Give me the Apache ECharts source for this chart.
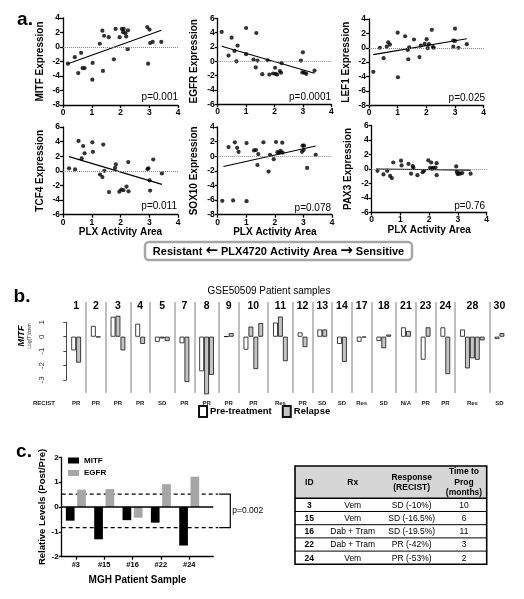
<!DOCTYPE html>
<html><head><meta charset="utf-8">
<script src="https://cdn.jsdelivr.net/npm/echarts@6/dist/echarts.min.js"></script>
<style>html,body{margin:0;padding:0;background:#fff}#c{width:524px;height:599px}</style>
</head><body><div id="c"></div>
<script>
const FONT = 'Liberation Sans, Arial, sans-serif';

// ---------- Panel a data ----------
const mitfPoints = [[0.17,-2.3],[0.41,-1.4],[0.53,-3.6],[0.63,-0.8],[0.68,-2.9],[0.75,-2.9],[1.02,-4.5],[1.03,-2.2],[1.28,0.45],[1.37,2.25],[1.39,-3.3],[1.43,1.55],[1.59,1.35],[1.77,-1.7],[1.83,2.5],[1.97,1.35],[2.05,2.5],[2.09,2.05],[2.11,2.5],[2.17,1.9],[2.2,1.45],[2.26,2.3],[2.25,-0.3],[2.93,2.75],[2.96,-2.3],[3.01,2.4],[3.03,0.55],[3.12,0.7],[3.42,0.7]];
const egfrPoints = [[0.14,4.1],[0.38,0.8],[0.49,3.3],[0.59,1.45],[0.66,0.0],[0.7,2.2],[1.0,4.65],[1.0,1.0],[1.26,0.25],[1.34,-0.85],[1.36,3.95],[1.4,0.1],[1.57,-1.8],[1.76,0.15],[1.82,-1.85],[1.95,-1.7],[2.02,-0.9],[2.04,-1.75],[2.09,-1.85],[2.19,-1.35],[2.23,-1.6],[2.25,-0.25],[2.93,0.1],[3.0,1.25],[2.98,-1.55],[3.05,-1.6],[3.12,-1.75],[3.41,-1.3]];
const lef1Points = [[0.15,-3.35],[0.38,0],[0.51,-1.45],[0.62,0.15],[0.67,0.75],[0.73,0.45],[1.0,2.1],[1.01,-4.1],[1.26,1.6],[1.35,-0.3],[1.37,-1.6],[1.4,0.05],[1.57,1.15],[1.76,-1.3],[1.81,0.3],[1.94,0.55],[2.01,1.2],[2.05,-0.05],[2.09,0.5],[2.19,2.5],[2.23,0.1],[2.26,0],[2.94,1.0],[2.94,0.15],[3.0,2.65],[3.0,0.95],[3.12,0],[3.41,0.5]];
const tcf4Points = [[0.21,0.35],[0.42,0.2],[0.54,4.1],[0.65,1.7],[0.7,3.4],[0.75,2.4],[1.02,3.9],[1.04,2.6],[1.29,-0.5],[1.37,-0.85],[1.4,3.6],[1.44,0],[1.6,-2.9],[1.81,0.4],[1.84,0.9],[1.96,-2.85],[2.03,-2.55],[2.1,-2.65],[2.21,-2.15],[2.27,1.2],[2.28,-2.8],[2.94,0.25],[2.97,0.35],[3.01,-1.3],[3.03,-2.7],[3.14,1.55],[3.44,-0.35]];
const sox10Points = [[0.16,-6.1],[0.38,1.25],[0.54,-6.05],[0.6,1.9],[0.68,1.15],[0.73,0.6],[1.01,1.8],[1.01,-6.15],[1.27,0.8],[1.34,0.85],[1.39,-1.2],[1.42,0.3],[1.6,1.9],[1.78,-2.1],[1.83,0.2],[1.96,-0.4],[2.04,1.95],[2.09,0.55],[2.16,0.5],[2.2,0.75],[2.26,1.85],[2.27,0.5],[2.95,0.6],[2.97,1.45],[3.01,0.85],[3.02,1.45],[3.13,-1.6],[3.43,0.2]];
const pax3Points = [[0.2,-0.25],[0.41,-0.75],[0.54,-0.25],[0.64,-0.95],[0.7,-1.25],[0.75,0.9],[1.02,1.15],[1.04,0.5],[1.28,0.7],[1.37,-0.65],[1.43,0.4],[1.45,0.2],[1.59,-0.85],[1.77,-0.45],[1.82,-0.25],[1.97,1.2],[2.03,0.15],[2.07,0.9],[2.1,0.05],[2.14,0.15],[2.22,0.2],[2.26,0.8],[2.26,-0.85],[2.94,0.35],[2.96,-0.4],[2.99,-0.7],[3.03,-0.6],[3.07,-0.65],[3.15,-0.55],[3.44,-0.65]];

const mitfFit = [[0.17,-2.3],[3.42,2.3]];
const egfrFit = [[0.14,2.1],[3.41,-1.67]];
const lef1Fit = [[0.15,-0.95],[3.41,1.25]];
const tcf4Fit = [[0.21,1.95],[3.44,-1.85]];
const sox10Fit = [[0.2,-1.4],[3.43,1.4]];
const pax3Fit = [[0.15,0.0],[3.44,-0.15]];

const aGenes = ['MITF','EGFR','LEF1','TCF4','SOX10','PAX3'];
const aPValues = ['p=0.001','p=0.0001','p=0.025','p=0.011','p=0.078','p=0.76'];
const aYMin = [-8,-6,-8,-6,-8,-6];
const aYMax = [4,6,4,6,4,6];
const aXTitle = 'PLX Activity Area';
const arrowText = 'Resistant {ar|\u2190} PLX4720 Activity Area {ar|\u2192} Sensitive';

// ---------- Panel b data ----------
const bTitle = 'GSE50509 Patient samples';
const bPatients = ['1','2','3','4','5','7','8','9','10','11','12','13','14','17','18','21','23','24','28','30'];
const bRecist = ['PR','PR','PR','PR','SD','PR','PR','PR','PR','Res','PR','SD','SD','Res','SD','N/A','PR','PR','Res','SD'];
const bPre = [-0.95,0.75,1.38,0.9,-0.35,-0.45,-2.4,0.02,-0.9,0.98,0.3,0.5,-0.5,-0.35,-0.3,0.65,-1.6,0.65,0.5,-0.15];
const bRelapse = [[-1.8],[-0.03],[1.45,-0.95],[-0.5],[-0.12,-0.3],[-3.15],[-4.0,-2.65],[0.25],[0.7,-2.25,0.95],[1.4,-1.7],[-0.72],[0.5],[-1.75],[-0.05],[-0.8,0.15],[0.4],[0.65],[-2.6],[-2.2,-1.5,-1.6,-0.25],[0.25]];

// ---------- Panel c data ----------
const cSamples = ['#3','#15','#16','#22','#24'];
const cMITF = [-0.55,-1.3,-0.53,-0.63,-1.55];
const cEGFR = [0.7,0.72,-0.43,0.92,1.22];
const cThresholds = [0.52,-0.83];
const cPValue = 'p=0.002';

// ---------- Table ----------
const tHeader = ['ID','Rx','Response\n(RECIST)','Time to\nProg\n(months)'];
const tIds = ['3','15','16','22','24'];
const tRx = ['Vem','Vem','Dab + Tram','Dab + Tram','Vem'];
const tResponse = ['SD (-10%)','SD (-16.5%)','SD (-19.5%)','PR (-42%)','PR (-53%)'];
const tTime = ['10','6','11','3','2'];

// ================= build =================
const chart = echarts.init(document.getElementById('c'), null, {renderer:'canvas'});
const aPoints = [mitfPoints, egfrPoints, lef1Points, tcf4Points, sox10Points, pax3Points];
const aFits = [mitfFit, egfrFit, lef1Fit, tcf4Fit, sox10Fit, pax3Fit];
const aGrids = [
  {left:63, top:18, width:115, height:87},
  {left:217.7, top:18.3, width:113.6, height:86},
  {left:369, top:19, width:114.7, height:86.3},
  {left:63, top:127, width:115, height:87.7},
  {left:217.7, top:127, width:114.3, height:87.7},
  {left:371.7, top:125.5, width:115, height:87}
];
const axisLineStyle = {color:'#000', width:1.3};
const tickFont = {color:'#000', fontWeight:'bold', fontSize:8.5, fontFamily:FONT};

const grid = [], xAxis = [], yAxis = [], series = [];
aGrids.forEach((g, i) => {
  grid.push(g);
  xAxis.push({gridIndex:i, type:'value', min:0, max:4, interval:1,
    axisLine:{onZero:false, lineStyle:axisLineStyle}, axisTick:{length:3, lineStyle:{width:1.3}},
    axisLabel:Object.assign({margin:3}, tickFont), splitLine:{show:false},
    name: i >= 3 ? aXTitle : '', nameLocation:'middle', nameGap:13,
    nameTextStyle:{color:'#000', fontWeight:'bold', fontSize:10, fontFamily:FONT}});
  yAxis.push({gridIndex:i, type:'value', min:aYMin[i], max:aYMax[i], interval:2,
    axisLine:{onZero:false, lineStyle:axisLineStyle}, axisTick:{length:3, lineStyle:{width:1.3}},
    axisLabel:Object.assign({margin:3}, tickFont), splitLine:{show:false},
    name: aGenes[i] + ' Expression', nameLocation:'middle', nameGap:18,
    nameTextStyle:{color:'#000', fontWeight:'bold', fontSize:10, fontFamily:FONT}});
  series.push({type:'scatter', name:'pts'+i, xAxisIndex:i, yAxisIndex:i, data:aPoints[i], symbolSize:4.2,
    itemStyle:{color:'#000'}, silent:true,
    markLine:{silent:true, symbol:'none', label:{show:false}, lineStyle:{type:'dotted', color:'#888', width:1}, data:[{yAxis:0}]}});
  series.push({type:'line', name:'fit'+i, xAxisIndex:i, yAxisIndex:i, data:aFits[i], symbol:'none',
    lineStyle:{color:'#000', width:1.1}, silent:true});
});

// ---- Panel b layout in slot units ----
const groupStart = [], groupCenter = [];
let s = 0;
const preData = [], relData = [];
bPatients.forEach((p, g) => {
  const n = 1 + bRelapse[g].length;
  groupStart.push(s);
  groupCenter.push(s + (n + 2) / 2);
  preData.push([s + 1.5, bPre[g]]);
  bRelapse[g].forEach((v, k) => relData.push([s + 2.5 + k, v]));
  s += n + 2;
});
const totalSlots = s;
const sepLines = groupStart.slice(1).map(v => ({xAxis: v}));
const centerKey = v => Number(v).toFixed(3);
const numMap = new Map(groupCenter.map((c, i) => [centerKey(c), bPatients[i]]));
const recMap = new Map(groupCenter.map((c, i) => [centerKey(c), bRecist[i]]));

// grid 6: bars (xAxis 6 bottom, xAxis 7 top, yAxis 6)
grid.push({left:66.3, top:302, width:443, height:91});
xAxis.push({gridIndex:6, type:'value', min:0, max:totalSlots, position:'bottom',
  axisLine:{show:false}, axisTick:{show:false}, splitLine:{show:false},
  axisLabel:{customValues:groupCenter, formatter:v => recMap.get(centerKey(v)) || '', margin:7,
    color:'#222', fontSize:6, fontWeight:'bold', fontFamily:FONT}});
xAxis.push({gridIndex:6, type:'value', min:0, max:totalSlots, position:'top',
  axisLine:{show:false}, axisTick:{show:false}, splitLine:{show:false},
  axisLabel:{customValues:groupCenter, formatter:v => numMap.get(centerKey(v)) || '', inside:true, margin:-1,
    color:'#000', fontSize:10.5, fontWeight:'bold', fontFamily:FONT}});
yAxis.push({gridIndex:6, type:'value', min:-3.91, max:2.41, show:false});
// grid 7: visible axis (xAxis 8, yAxis 7)
grid.push({left:66.3, top:322.3, width:443, height:57.6});
xAxis.push({gridIndex:7, type:'value', min:0, max:1, show:false});
yAxis.push({gridIndex:7, type:'value', min:-3, max:1, interval:1, offset:12,
  axisLine:{lineStyle:{color:'#444', width:1}}, axisTick:{length:3, lineStyle:{color:'#444'}},
  axisLabel:{rotate:90, margin:9, color:'#333', fontSize:8, fontFamily:FONT}, splitLine:{show:false}});

series.push({type:'bar', name:'Pre-treatment', xAxisIndex:6, yAxisIndex:6, data:preData, barWidth:4.8, barGap:'-100%',
  itemStyle:{color:'#fff', borderColor:'#111', borderWidth:0.8}, clip:false, silent:true});
series.push({type:'bar', name:'Relapse', xAxisIndex:6, yAxisIndex:6, data:relData, barWidth:4.8, barGap:'-100%',
  itemStyle:{color:'#c4c4c4', borderColor:'#111', borderWidth:0.8}, clip:false, silent:true,
  markLine:{silent:true, symbol:'none', label:{show:false}, lineStyle:{type:'solid', color:'#a8a8a8', width:1.5}, data:sepLines}});

// ---- Panel c (grid 8, xAxis 9, yAxis 8) ----
const cCenters = cSamples.map((_, i) => i + 0.5);
const cLabelMap = new Map(cCenters.map((c, i) => [centerKey(c), cSamples[i]]));
grid.push({left:61.7, top:457.3, width:151.6, height:99.4});
xAxis.push({gridIndex:8, type:'value', min:0, max:5.35,
  axisLine:{onZero:false, lineStyle:axisLineStyle}, axisTick:{customValues:cCenters, length:3, lineStyle:{width:1.3}},
  axisLabel:{customValues:cCenters, formatter:v => cLabelMap.get(centerKey(v)) || '', margin:4,
    color:'#000', fontWeight:'bold', fontSize:7.5, fontFamily:FONT}, splitLine:{show:false},
  name:'MGH Patient Sample', nameLocation:'middle', nameGap:19,
  nameTextStyle:{color:'#000', fontWeight:'bold', fontSize:10, fontFamily:FONT}});
yAxis.push({gridIndex:8, type:'value', min:-2, max:2, interval:1,
  axisLine:{onZero:false, lineStyle:axisLineStyle}, axisTick:{length:3, lineStyle:{width:1.3}},
  axisLabel:{margin:3, color:'#000', fontWeight:'bold', fontSize:8, fontFamily:FONT}, splitLine:{show:false},
  name:'Relative Levels (Post/Pre)', nameLocation:'middle', nameGap:13,
  nameTextStyle:{color:'#000', fontWeight:'bold', fontSize:9.5, fontFamily:FONT}});
series.push({type:'bar', name:'MITF', xAxisIndex:9, yAxisIndex:8, data:cMITF.map((v,i)=>[cCenters[i], v]),
  barWidth:8.7, barGap:'30%', itemStyle:{color:'#000'}, silent:true,
  markLine:{silent:true, symbol:'none', label:{show:false}, lineStyle:{type:'solid', color:'#000', width:1.5}, data:[{yAxis:0}]}});
series.push({type:'bar', name:'EGFR', xAxisIndex:9, yAxisIndex:8, data:cEGFR.map((v,i)=>[cCenters[i], v]),
  barWidth:8.7, barGap:'30%', itemStyle:{color:'#a6a6a6'}, silent:true});

const option = {
  animation:false,
  backgroundColor:'#fff',
  textStyle:{fontFamily:FONT},
  grid, xAxis, yAxis, series,
  legend:[
    {data:['Pre-treatment','Relapse'], left:198, top:405, padding:0, icon:'rect', itemWidth:8, itemHeight:11, itemGap:10,
     textStyle:{fontSize:9.5, fontWeight:'bold', color:'#000', fontFamily:FONT, padding:[0,0,0,-2]}, selectedMode:false},
    {data:['MITF','EGFR'], orient:'vertical', left:68, top:456.5, padding:0, icon:'rect', itemWidth:11, itemHeight:6, itemGap:4.5,
     textStyle:{fontSize:8, fontWeight:'bold', color:'#000', fontFamily:FONT}, selectedMode:false}
  ]
};
chart.setOption(option);

// ---- graphics (text, box, table, bracket) ----
const G = [];
const txt = (x, y, t, o) => G.push({type:'text', x:x, y:y, silent:true,
  style:Object.assign({text:t, fill:'#000', font:'bold 10px ' + FONT, textAlign:'center', textVerticalAlign:'middle'}, o || {})});
txt(25, 20, 'a.', {font:'bold 19px ' + FONT});
txt(22, 297, 'b.', {font:'bold 19px ' + FONT});
txt(24, 452, 'c.', {font:'bold 19px ' + FONT});
const pPos = [[178,97],[331,97],[485,98.5],[177,206.5],[331,208],[485,206.5]];
aPValues.forEach((p, i) => txt(pPos[i][0], pPos[i][1], p, {font:'10px ' + FONT, textAlign:'right'}));
G.push({type:'rect', silent:true, shape:{x:145, y:242, width:267, height:18, r:4},
  style:{fill:'#fff', stroke:'#a6a6a6', lineWidth:2.5}});
txt(278.5, 251.5, arrowText, {font:'bold 11px ' + FONT,
  rich:{ar:{font:'bold 15px "DejaVu Sans", sans-serif', fill:'#000', padding:[0,0,1,0]}}});
txt(269, 291, bTitle, {font:'10px ' + FONT});
txt(44, 403.5, 'RECIST', {font:'bold 6px ' + FONT, fill:'#222'});
G.push({type:'text', x:22, y:336, rotation:Math.PI/2, silent:true,
  style:{text:'MITF', font:'italic bold 9px ' + FONT, fill:'#000', textAlign:'center', textVerticalAlign:'middle'}});
G.push({type:'text', x:29.5, y:336, rotation:Math.PI/2, silent:true,
  style:{text:'Log(T)/znm', font:'5px ' + FONT, fill:'#333', textAlign:'center', textVerticalAlign:'middle'}});
const xl = chart.convertToPixel({xAxisIndex:9}, 0);
const xr = chart.convertToPixel({xAxisIndex:9}, 5.35);
const ys = cThresholds.map(v => chart.convertToPixel({yAxisIndex:8}, v));
ys.forEach(y => G.push({type:'line', silent:true, shape:{x1:xl, y1:y, x2:xr + 5, y2:y},
  style:{stroke:'#000', lineWidth:1.3, lineDash:[4,3]}}));
G.push({type:'polyline', silent:true, shape:{points:[[xr+6, ys[0]],[xr+17, ys[0]],[xr+17, ys[1]],[xr+6, ys[1]]]},
  style:{stroke:'#000', lineWidth:1.2, fill:'none'}});
txt(xr + 19, (ys[0] + ys[1]) / 2, cPValue, {font:'8.5px ' + FONT, textAlign:'left'});
const tL = 295, tR = 486.7, tTop = 466, tHead = 498.3, rowH = 13.2;
const colX = [309.3, 352.7, 411.7, 464];
G.push({type:'rect', silent:true, shape:{x:tL, y:tTop, width:tR - tL, height:tHead - tTop}, style:{fill:'#d6d6d6'}});
tHeader.forEach((h, c) => txt(colX[c], (tTop + tHead) / 2 + 0.5, h, {font:'bold 8.5px ' + FONT, lineHeight:10.5}));
const rows = tIds.map((id, r) => [id, tRx[r], tResponse[r], tTime[r]]);
rows.forEach((row, r) => {
  const y0 = tHead + r * rowH;
  row.forEach((v, c) => txt(colX[c], y0 + rowH / 2 + 0.5, v, {font:(c === 0 ? 'bold ' : '') + '8.5px ' + FONT}));
  if (r > 0) G.push({type:'line', silent:true, shape:{x1:tL, y1:y0, x2:tR, y2:y0}, style:{stroke:'#000', lineWidth:1}});
});
const tBot = tHead + rows.length * rowH;
G.push({type:'line', silent:true, shape:{x1:tL, y1:tHead, x2:tR, y2:tHead}, style:{stroke:'#000', lineWidth:1.6}});
G.push({type:'rect', silent:true, shape:{x:tL, y:tTop, width:tR - tL, height:tBot - tTop}, style:{fill:'none', stroke:'#000', lineWidth:1.6}});

chart.setOption({graphic:G});
</script></body></html>
